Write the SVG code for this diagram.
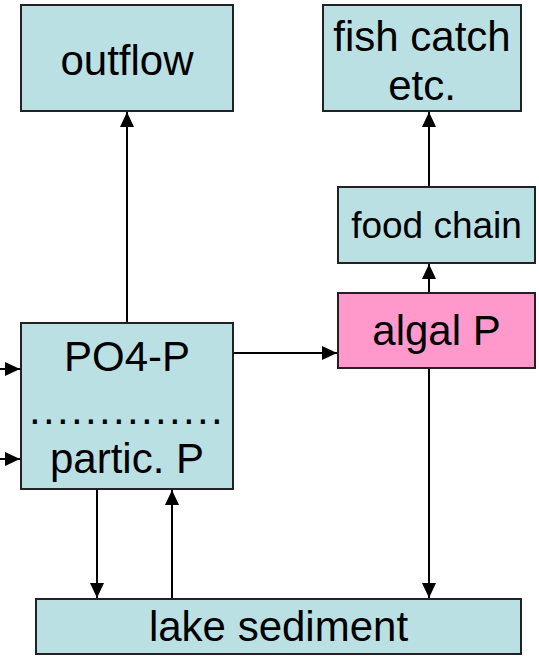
<svg xmlns="http://www.w3.org/2000/svg" width="539" height="656" viewBox="0 0 539 656">
<style>
.box{fill:#BBE0E3;stroke:#222;stroke-width:2}
.pink{fill:#FF99CC;stroke:#222;stroke-width:2}
.t{font-family:"Liberation Sans",Arial,sans-serif;font-size:42px;fill:#000;text-anchor:middle}
.s{font-size:37px}
.c{stroke:#000;stroke-width:2;fill:none;marker-end:url(#ah)}
.n{stroke:#000;stroke-width:2;fill:none}
</style>
<defs>
<marker id="ah" markerUnits="userSpaceOnUse" markerWidth="16" markerHeight="16" viewBox="0 0 16 14" refX="15" refY="7" orient="auto">
<path d="M0,0 L15,7 L0,14 Z" fill="#000"/>
</marker>
</defs>
<rect width="539" height="656" fill="#fff"/>
<g id="connectors">
<line class="c" x1="127" y1="323" x2="127" y2="112"/>
<line class="c" x1="429" y1="187" x2="429" y2="112"/>
<line class="c" x1="429" y1="293" x2="429" y2="264"/>
<line class="c" x1="233" y1="353" x2="337" y2="353"/>
<line class="c" x1="429" y1="368" x2="429" y2="598"/>
<line class="c" x1="97" y1="489" x2="97" y2="598"/>
<line class="c" x1="172" y1="599" x2="172" y2="490"/>
<line class="c" x1="0" y1="369" x2="20" y2="369"/>
<line class="c" x1="0" y1="459" x2="20" y2="459"/>
</g>
<g id="outflow">
<rect class="box" x="21" y="5" width="212" height="106"/>
<text class="t" x="127" y="75">outflow</text>
</g>
<g id="fish-catch">
<rect class="box" x="323" y="5" width="198" height="106"/>
<text class="t" x="422" y="51">fish catch</text>
<text class="t" x="422" y="100">etc.</text>
</g>
<g id="food-chain">
<rect class="box" x="338" y="187" width="197" height="76"/>
<text class="t s" x="436.5" y="238">food chain</text>
</g>
<g id="algal-p">
<rect class="pink" x="338" y="293" width="197" height="75"/>
<text class="t" x="436.5" y="345">algal P</text>
</g>
<g id="po4-p">
<rect class="box" x="21" y="323" width="212" height="166"/>
<text class="t" x="127" y="371">PO4-P</text>
<text class="t" x="127" y="424" style="letter-spacing:2.32px">..............</text>
<text class="t" x="127" y="473">partic. P</text>
</g>
<g id="lake-sediment">
<rect class="box" x="36" y="599" width="485" height="55"/>
<text class="t" x="278.5" y="641">lake sediment</text>
</g>
</svg>
